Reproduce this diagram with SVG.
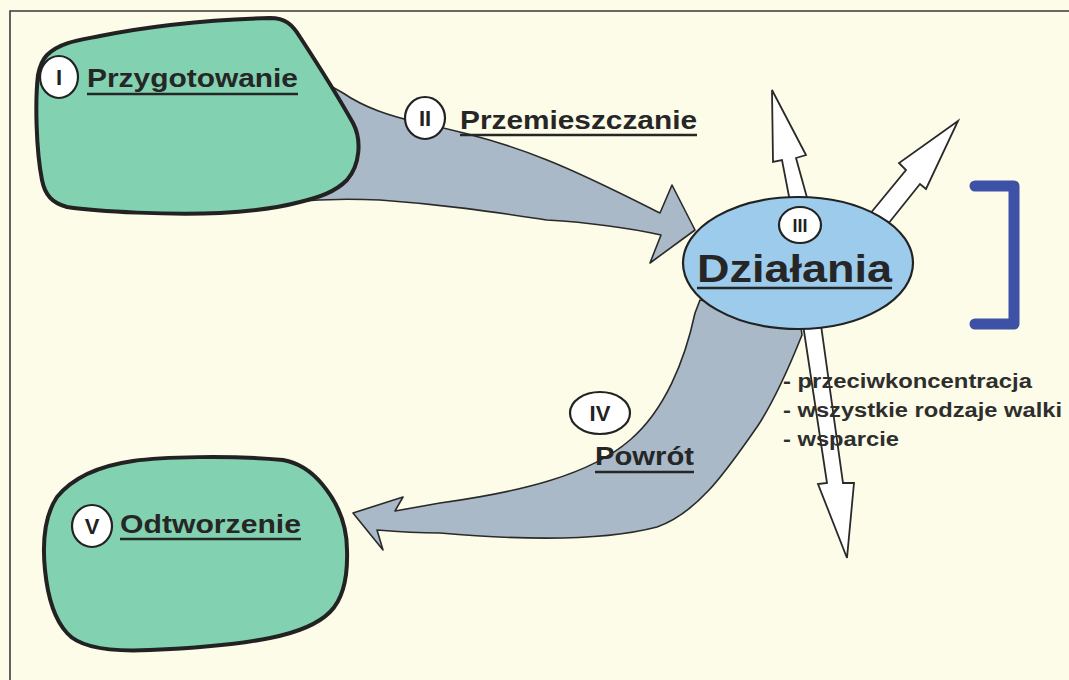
<svg xmlns="http://www.w3.org/2000/svg" width="1069" height="680" viewBox="0 0 1069 680">
  <style>
    .blob { fill: #82d2b1; stroke: #222; stroke-width: 4; stroke-linejoin: round; }
    .flow { fill: #aab9c7; stroke: #2a2a2a; stroke-width: 1.6; stroke-linejoin: round; }
    .act { fill: #ffffff; stroke: #2a2a2a; stroke-width: 1.8; stroke-linejoin: miter; }
    .badge { fill: #ffffff; stroke: #222; stroke-width: 2.2; }
    .num { font-family: "Liberation Sans", Arial, sans-serif; font-weight: bold; fill: #222; text-anchor: middle; }
    .lbl { font-family: "Liberation Sans", Arial, sans-serif; font-weight: bold; fill: #262626; }
    .ul { stroke: #262626; stroke-width: 2.6; }
    .note { font-family: "Liberation Sans", Arial, sans-serif; font-weight: bold; font-size: 20px; fill: #2e2e2e; }
  </style>
  <rect x="0" y="0" width="1069" height="680" fill="#fcfce8"/>
  <path d="M10,680 V11 H1069" fill="none" stroke="#3a3a3a" stroke-width="1.6"/>

  <g id="connectors">
    <path id="flow-przemieszczanie" class="flow" d="M320,80 L343,93 C365,108 390,116 420,123 C470,133 510,145 547,160 C585,175 630,198 660,213 L672,185 L695,230 L650,263 L661,235 C620,226 580,222 547,220 C500,213 450,205 380,200 C340,198 310,200 290,202 L300,150 Z"/>
    <path id="flow-powrot" class="flow" d="M700,300 L695,313 C685,360 665,410 630,440 C590,475 520,492 440,503 L395,511 L403,497 L353,513 L383,550 L377,530 C400,532 420,533 440,533 C520,540 600,542 657,527 C700,512 730,465 757,427 C775,400 790,365 802,335 L800,320 Z"/>
    <path id="act-up" class="act" d="M792,212 L782,160 L773,162 L772,90 L806,155 L796,158 L811,212 Z"/>
    <path id="act-upright" class="act" d="M860,226 L906,170 L899,163 L958,121 L926,189 L920,184 L880,234 Z"/>
    <path id="act-down" class="act" d="M802,318 L827,483 L818,484 L847,558 L854,483 L843,483 L820,318 Z"/>
    <g id="label-ii">
      <ellipse class="badge" cx="425" cy="118" rx="20" ry="21"/>
      <text class="num" x="425" y="126" font-size="22">II</text>
      <text class="lbl" x="460" y="129" font-size="25" textLength="237" lengthAdjust="spacingAndGlyphs">Przemieszczanie</text>
      <line class="ul" x1="460" y1="135" x2="697" y2="135"/>
    </g>
    <g id="label-iv">
      <ellipse class="badge" cx="600" cy="413" rx="30" ry="21"/>
      <text class="num" x="600" y="421" font-size="22">IV</text>
      <text class="lbl" x="595" y="465" font-size="25" textLength="99" lengthAdjust="spacingAndGlyphs">Powrót</text>
      <line class="ul" x1="595" y1="472" x2="694" y2="472"/>
    </g>
  </g>

  <g id="node-przygotowanie">
    <path class="blob" d="M47,55 C60,42 80,40 100,36 C140,28 200,20 270,18 C285,18 292,24 300,37 C315,60 340,100 353,123 C362,140 360,165 347,180 C335,192 320,197 300,202 C270,210 240,212 220,213 C170,215 100,212 67,207 C52,203 45,195 42,180 C36,150 35,100 38,75 C40,65 42,60 47,55 Z"/>
    <ellipse class="badge" cx="59" cy="77" rx="19" ry="21"/>
    <text class="num" x="59" y="85" font-size="22">I</text>
    <text class="lbl" x="87" y="87" font-size="25" textLength="211" lengthAdjust="spacingAndGlyphs">Przygotowanie</text>
    <line class="ul" x1="87" y1="94" x2="298" y2="94"/>
  </g>

  <g id="node-dzialania">
    <ellipse cx="798" cy="263" rx="115" ry="66" fill="#9dcbec" stroke="#222" stroke-width="2.2"/>
    <ellipse class="badge" cx="800" cy="225" rx="21" ry="18"/>
    <text class="num" x="800" y="232" font-size="18">III</text>
    <text class="lbl" x="697" y="282" font-size="38" textLength="195" lengthAdjust="spacingAndGlyphs">Działania</text>
    <line class="ul" x1="697" y1="288" x2="892" y2="288" stroke-width="3"/>
  </g>

  <g id="node-odtworzenie">
    <path class="blob" d="M57,497 C75,475 105,465 133,461 C160,457 230,455 283,460 C300,463 312,472 322,484 C338,503 347,525 347,550 C348,580 342,600 330,612 C318,624 300,632 270,638 C240,644 200,648 150,650 C110,652 80,648 67,633 C55,620 48,600 45,570 C42,540 45,515 57,497 Z"/>
    <ellipse class="badge" cx="92" cy="526" rx="20" ry="21"/>
    <text class="num" x="92" y="534" font-size="22">V</text>
    <text class="lbl" x="120" y="533" font-size="25" textLength="181" lengthAdjust="spacingAndGlyphs">Odtworzenie</text>
    <line class="ul" x1="120" y1="539" x2="301" y2="539"/>
  </g>

  <g id="bracket">
    <path d="M975,186 H1014 V324 H975" fill="none" stroke="#3d51a6" stroke-width="11" stroke-linecap="round" stroke-linejoin="round"/>
  </g>

  <g id="notes">
    <text class="note" x="783" y="388" textLength="249" lengthAdjust="spacingAndGlyphs">- przeciwkoncentracja</text>
    <text class="note" x="783" y="417" textLength="279" lengthAdjust="spacingAndGlyphs">- wszystkie rodzaje walki</text>
    <text class="note" x="783" y="446" textLength="116" lengthAdjust="spacingAndGlyphs">- wsparcie</text>
  </g>
</svg>
